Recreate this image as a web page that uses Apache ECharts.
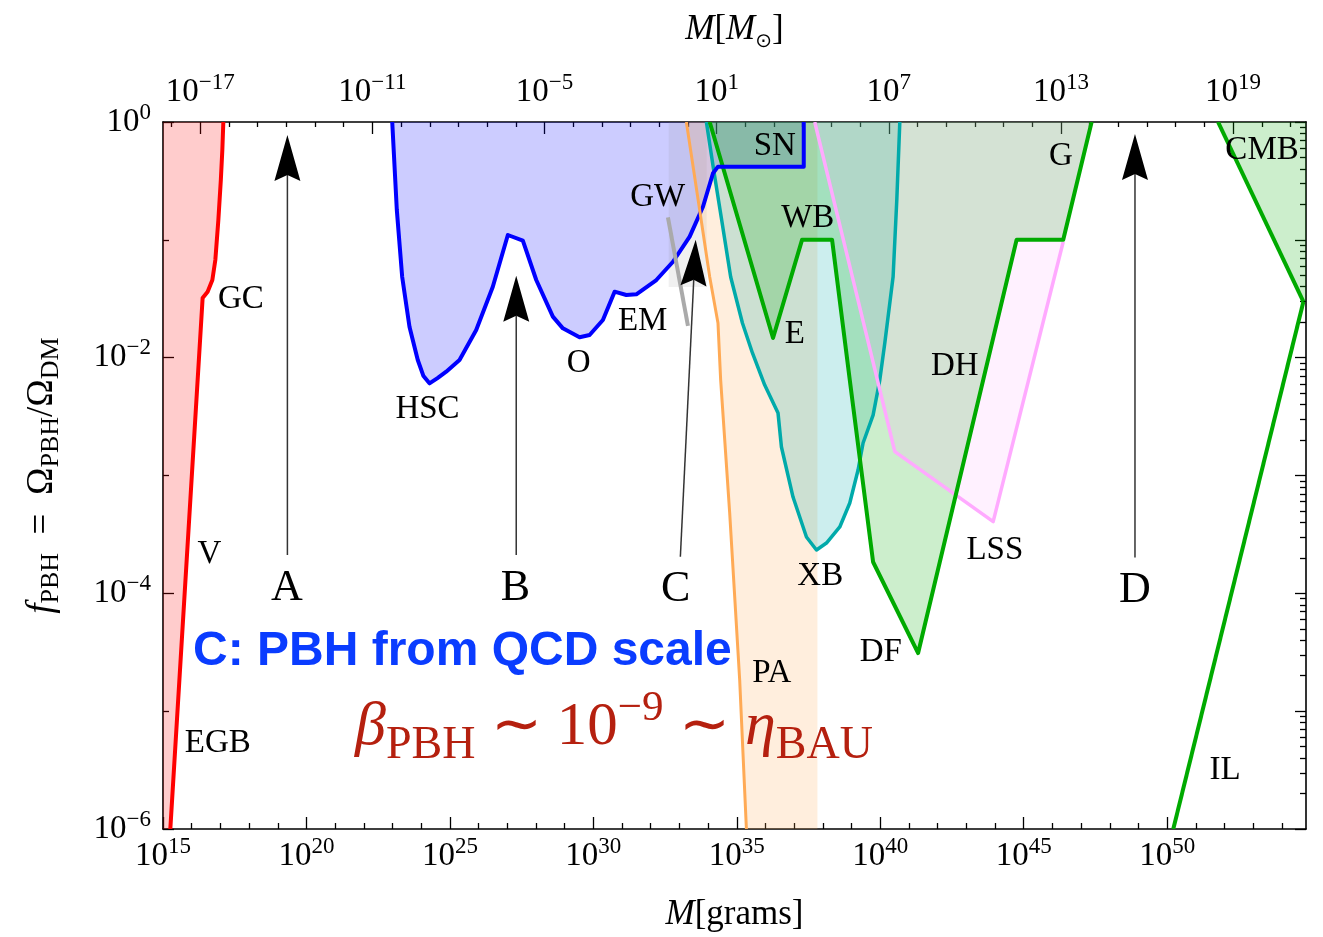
<!DOCTYPE html>
<html>
<head>
<meta charset="utf-8">
<title>PBH constraints</title>
<script src="https://cdn.jsdelivr.net/npm/echarts@6/dist/echarts.min.js"></script>
<style>
  html, body { margin: 0; padding: 0; background: #fff; }
  #chart { width: 1323px; height: 937px; }
</style>
</head>
<body>
<div id="chart"></div>
<script>
// All coordinates are log10 values: x = log10(M / grams), y = log10(f_PBH).
const LOG_MSUN = 33.2986;          // log10 of one solar mass in grams
const gramMin = 15, gramMax = 54.84;

// Evaporation limits (EGB, V, GC)
const evapBoundary = [[15.255,-6],[16.381,-1.494],[16.556,-1.440],[16.720,-1.341],[16.824,-1.171],
  [16.929,-0.832],[17.016,-0.492],[17.068,-0.238],[17.103,0]];

// Microlensing (HSC, O, EM) and supernova lensing (SN)
const lensingBoundary = [[22.99,0],[23.15,-0.747],[23.336,-1.313],[23.591,-1.737],[23.880,-2.020],
  [24.079,-2.156],[24.288,-2.218],[24.568,-2.173],[24.871,-2.119],[25.335,-2.020],[25.917,-1.765],
  [26.496,-1.398],[27.020,-0.959],[27.543,-1.007],[28.010,-1.341],[28.589,-1.652],[28.938,-1.751],
  [29.520,-1.827],[29.869,-1.808],[30.333,-1.680],[30.741,-1.440],[31.149,-1.468],[31.498,-1.462],
  [32.196,-1.341],[32.775,-1.186],[33.357,-0.973],[33.821,-0.719],[34.170,-0.435],[34.344,-0.379],
  [37.334,-0.379],[37.334,0]];

// Gravitational-wave limit
const gwLine = [[32.600,-0.809],[33.298,-1.731]];
const gwBand = [[32.625,0],[33.95,0],[33.95,-1.40],[32.625,-1.40]];

// Planck accretion (PA)
const paBoundary = [[33.242,0],[33.706,-0.747],[34.055,-1.313],[34.344,-1.706],[34.438,-2.190],
  [34.752,-3.318],[35.101,-4.736],[35.335,-6]];
const paEdge = 37.811;

// X-ray binaries (XB)
const xbBoundary = [[33.940,0],[34.194,-0.407],[34.473,-0.832],[34.787,-1.315],[35.196,-1.706],
  [35.545,-1.960],[35.973,-2.232],[36.437,-2.470],[36.556,-2.758],[36.960,-3.183],[37.428,-3.522],
  [37.777,-3.632],[38.125,-3.573],[38.589,-3.437],[38.938,-3.233],[39.227,-2.953],[39.402,-2.724],
  [39.751,-2.487],[39.984,-2.190],[40.159,-1.876],[40.448,-1.313],[40.577,-0.662],[40.682,0]];

// Dynamical limits (E, WB, DF, DH, G)
const dynBoundary = [[34.055,0],[36.263,-1.833],[37.274,-1.0],[38.321,-1.0],[38.938,-2.190],
  [39.751,-3.734],[41.320,-4.507],[44.753,-1.0],[46.378,-1.0],[47.368,0]];

// Large-scale structure (LSS)
const lssBoundary = [[37.717,0],[40.508,-2.798],[43.936,-3.392],[46.378,-1.016]];
const lssTop = [47.368,0];

// CMB dipole and incredulity limit (IL)
const cmbBoundary = [[51.774,0],[54.749,-1.525]];
const ilBoundary = [[54.749,-1.525],[50.214,-6]];

// Mass windows A-D: [x tail, y tail, x tip, y tip]
const arrows = [
  [19.336,-3.675,19.336,-0.110],
  [27.312,-3.675,27.312,-1.304],
  [33.033,-3.689,33.567,-1.000],
  [48.879,-3.695,48.879,-0.102]
];

const regionLabels = [
  ['GC',17.714,-1.502],['V',16.615,-3.666],['EGB',16.911,-5.275],['HSC',24.219,-2.436],
  ['O',29.486,-2.045],['EM',31.718,-1.689],['GW',32.241,-0.637],['SN',36.322,-0.204],
  ['WB',37.473,-0.815],['E',37.020,-1.799],['DH',42.600,-2.071],['G',46.298,-0.289],
  ['CMB',53.308,-0.238],['XB',37.909,-3.853],['LSS',43.996,-3.632],['DF',40.019,-4.498],
  ['PA',36.217,-4.676],['IL',52.018,-5.499]
];
const windowLabels = [['A',19.318,-3.955],['B',27.288,-3.955],['C',32.869,-3.963],['D',48.879,-3.972]];

// Tick positions
const gramMajor = [15,20,25,30,35,40,45,50];
const solarMajor = [-17,-11,-5,1,7,13,19];
const fMajor = [-6,-4,-2,0];

const gramMinor = [];
for (let e = 16; e <= 54; e++) if (e % 5 !== 0) gramMinor.push(e);
const solarMinor = [];
for (let e = -18; e <= 21; e++) if (solarMajor.indexOf(e) < 0) solarMinor.push(e);
const fMinorLeft = [-5,-3,-1];
const fDecades = [-6,-5,-4,-3,-2,-1,0];
const fLogMinor = [];
for (let n = -6; n < 0; n++) for (let k = 2; k <= 9; k++) fLogMinor.push(n + Math.log10(k));

const SERIF = '"Liberation Serif", "Times New Roman", serif';
const SANS = '"Liberation Sans", Arial, sans-serif';

const powLabel = v => {
  const e = Math.round(v);
  return '{b|10}{s|' + (e < 0 ? '\u2212' + (-e) : e) + '}';
};
const tickRich = {
  b: { fontFamily: SERIF, fontSize: 33, lineHeight: 42, color: '#000' },
  s: { fontFamily: SERIF, fontSize: 23, lineHeight: 23, verticalAlign: 'top', color: '#000' }
};
const tickLine = { color: '#000', width: 1.3 };
const frameLine = { show: true, onZero: false, lineStyle: { color: '#000', width: 1.6 } };
const noLine = { show: false, onZero: false };

function tickAxis(position, min, max, values, length, extra) {
  return Object.assign({
    type: 'value', position, min, max, gridIndex: 0,
    axisLine: noLine,
    axisTick: { show: true, inside: true, length, customValues: values, lineStyle: tickLine },
    axisLabel: { show: false },
    splitLine: { show: false }
  }, extra || {});
}

function fillSeries(pts, fill, z) {
  return {
    type: 'custom', coordinateSystem: 'cartesian2d', xAxisIndex: 0, yAxisIndex: 0,
    data: pts, encode: { x: 0, y: 1 }, silent: true, clip: true, z: z || 1,
    renderItem: (params, api) => {
      if (params.dataIndex !== 0) return null;
      return { type: 'polygon', shape: { points: pts.map(p => api.coord(p)) }, style: { fill, stroke: null } };
    }
  };
}
function lineSeries(pts, stroke, width, z) {
  return {
    type: 'custom', coordinateSystem: 'cartesian2d', xAxisIndex: 0, yAxisIndex: 0,
    data: pts, encode: { x: 0, y: 1 }, silent: true, clip: true, z: z || 3,
    renderItem: (params, api) => {
      if (params.dataIndex !== 0) return null;
      return { type: 'polyline', shape: { points: pts.map(p => api.coord(p)) },
        style: { fill: null, stroke, lineWidth: width, lineJoin: 'round', lineCap: 'butt' } };
    }
  };
}
function textSeries(list, font, z) {
  return {
    type: 'custom', coordinateSystem: 'cartesian2d', xAxisIndex: 0, yAxisIndex: 0,
    data: list.map(r => [r[1], r[2]]), encode: { x: 0, y: 1 }, silent: true, z: z || 8,
    renderItem: (params, api) => {
      const p = api.coord([api.value(0), api.value(1)]);
      return { type: 'text', x: p[0], y: p[1],
        style: { text: list[params.dataIndex][0], font, fill: '#000',
          align: 'center', verticalAlign: 'middle', textAlign: 'center', textVerticalAlign: 'middle' } };
    }
  };
}

const arrowSeries = {
  type: 'custom', coordinateSystem: 'cartesian2d', xAxisIndex: 0, yAxisIndex: 0,
  data: arrows, encode: { x: [0, 2], y: [1, 3] }, silent: true, z: 7,
  renderItem: (params, api) => {
    const a = api.coord([api.value(0), api.value(1)]);
    const b = api.coord([api.value(2), api.value(3)]);
    const dx = b[0] - a[0], dy = b[1] - a[1], L = Math.hypot(dx, dy);
    const ux = dx / L, uy = dy / L, nx = -uy, ny = ux;
    const len = 46, half = 13, notch = 40;
    const corner = s => [b[0] - ux * len + nx * half * s, b[1] - uy * len + ny * half * s];
    const mid = [b[0] - ux * notch, b[1] - uy * notch];
    return { type: 'group', children: [
      { type: 'line', shape: { x1: a[0], y1: a[1], x2: mid[0], y2: mid[1] }, style: { stroke: '#333', lineWidth: 1.5 } },
      { type: 'polygon', shape: { points: [b, corner(1), mid, corner(-1)] }, style: { fill: '#000' } }
    ] };
  }
};

const RED = '#ff0000', BLUE = '#0000ff', ORANGE = '#ffaa55', CYAN = '#00aaaa',
      GREEN = '#00aa00', PINK = '#ffaaff', GREY = '#aaaaaa';

const nameRich = size => ({
  i: { fontFamily: SERIF, fontStyle: 'italic', fontSize: size, lineHeight: 44, color: '#000' },
  n: { fontFamily: SERIF, fontSize: size, lineHeight: 44, color: '#000' }
});

const option = {
  animation: false,
  backgroundColor: '#fff',
  textStyle: { fontFamily: SERIF },
  grid: { left: 163, top: 122, width: 1143, height: 707, containLabel: false, outerBoundsMode: 'none' },
  xAxis: [
    {
      type: 'value', position: 'bottom', min: gramMin, max: gramMax, gridIndex: 0,
      axisLine: frameLine,
      axisTick: { show: true, inside: true, length: 12, customValues: gramMajor, lineStyle: tickLine },
      axisLabel: { show: true, customValues: gramMajor, margin: 6, formatter: powLabel, rich: tickRich },
      splitLine: { show: false },
      name: '{i|M}{n|[grams]}', nameLocation: 'middle', nameGap: 64,
      nameTextStyle: { rich: nameRich(35) }
    },
    tickAxis('bottom', gramMin, gramMax, gramMinor, 6),
    {
      type: 'value', position: 'top', min: gramMin - LOG_MSUN, max: gramMax - LOG_MSUN, gridIndex: 0,
      axisLine: frameLine,
      axisTick: { show: true, inside: true, length: 12, customValues: solarMajor, lineStyle: tickLine },
      axisLabel: { show: true, customValues: solarMajor, margin: 9, formatter: powLabel, rich: tickRich },
      splitLine: { show: false },
      name: '{i|M}{n|[}{i|M}{s|\u2299}{n|]}', nameLocation: 'middle', nameGap: 70,
      nameTextStyle: { rich: Object.assign(nameRich(35), {
        s: { fontFamily: '"DejaVu Sans", sans-serif', fontSize: 20, lineHeight: 20, verticalAlign: 'bottom', color: '#000' } }) }
    },
    tickAxis('top', gramMin - LOG_MSUN, gramMax - LOG_MSUN, solarMinor, 5)
  ],
  yAxis: [
    {
      type: 'value', position: 'left', min: -6, max: 0, gridIndex: 0,
      axisLine: frameLine,
      axisTick: { show: true, inside: true, length: 11, customValues: fMajor, lineStyle: tickLine },
      axisLabel: { show: true, customValues: fMajor, margin: 12, formatter: powLabel, rich: tickRich },
      splitLine: { show: false },
      name: '{i|f}{s|PBH}{n|  =  \u03a9}{s|PBH}{n|/\u03a9}{s|DM}', nameLocation: 'middle', nameGap: 99,
      nameTextStyle: { rich: Object.assign(nameRich(37), {
        s: { fontFamily: SERIF, fontSize: 26, lineHeight: 26, verticalAlign: 'bottom', color: '#000' } }) }
    },
    tickAxis('left', -6, 0, fMinorLeft, 6),
    tickAxis('right', -6, 0, fDecades, 11, { axisLine: frameLine }),
    tickAxis('right', -6, 0, fLogMinor, 6)
  ],
  series: [
    // filled regions
    fillSeries([[gramMin, -6]].concat(evapBoundary, [[gramMin, 0]]), 'rgba(255,0,0,0.2)'),
    fillSeries(lensingBoundary, 'rgba(0,0,255,0.2)'),
    fillSeries(gwBand, 'rgba(128,128,128,0.12)'),
    fillSeries(paBoundary.concat([[paEdge, -6], [paEdge, 0]]), 'rgba(255,170,85,0.2)'),
    fillSeries(xbBoundary, 'rgba(0,170,170,0.2)'),
    fillSeries(dynBoundary, 'rgba(0,170,0,0.2)'),
    fillSeries(lssBoundary.concat([lssTop]), 'rgba(255,170,255,0.16)'),
    fillSeries(cmbBoundary.concat([[gramMax, cmbBoundary[1][1]], [gramMax, 0]]), 'rgba(0,170,0,0.2)'),
    // boundaries
    lineSeries(evapBoundary, RED, 4),
    lineSeries(xbBoundary, CYAN, 3.5),
    lineSeries(lssBoundary, PINK, 3.5),
    lineSeries(dynBoundary, GREEN, 4),
    lineSeries(cmbBoundary, GREEN, 4),
    lineSeries(ilBoundary, GREEN, 4),
    lineSeries(lensingBoundary, BLUE, 4),
    lineSeries(paBoundary, ORANGE, 3),
    lineSeries(gwLine, GREY, 4),
    arrowSeries,
    textSeries(regionLabels, '33px ' + SERIF),
    textSeries(windowLabels, '44px ' + SERIF)
  ],
  graphic: [
    {
      type: 'text', x: 193, y: 652, z: 100, silent: true,
      style: { text: 'C: PBH from QCD scale', font: 'bold 48px ' + SANS, fill: '#0a3cff',
        align: 'left', verticalAlign: 'middle', textAlign: 'left', textVerticalAlign: 'middle' }
    },
    {
      type: 'text', x: 355, y: 728, z: 100, silent: true,
      style: {
        text: '{g|\u03b2}{sb|PBH}{n| \u223c 10}{sp|\u22129}{n| \u223c }{g|\u03b7}{sb|BAU}',
        align: 'left', verticalAlign: 'middle', textAlign: 'left', textVerticalAlign: 'middle',
        rich: {
          g:  { fontFamily: SERIF, fontStyle: 'italic', fontSize: 62, lineHeight: 82, fill: '#b5200f', color: '#b5200f' },
          n:  { fontFamily: SERIF, fontSize: 61, lineHeight: 82, fill: '#b5200f', color: '#b5200f' },
          sb: { fontFamily: SERIF, fontSize: 46, lineHeight: 46, verticalAlign: 'bottom', fill: '#b5200f', color: '#b5200f' },
          sp: { fontFamily: SERIF, fontSize: 43, lineHeight: 43, verticalAlign: 'top', fill: '#b5200f', color: '#b5200f' }
        }
      }
    }
  ]
};

const chart = echarts.init(document.getElementById('chart'));
chart.setOption(option);
</script>
</body>
</html>
